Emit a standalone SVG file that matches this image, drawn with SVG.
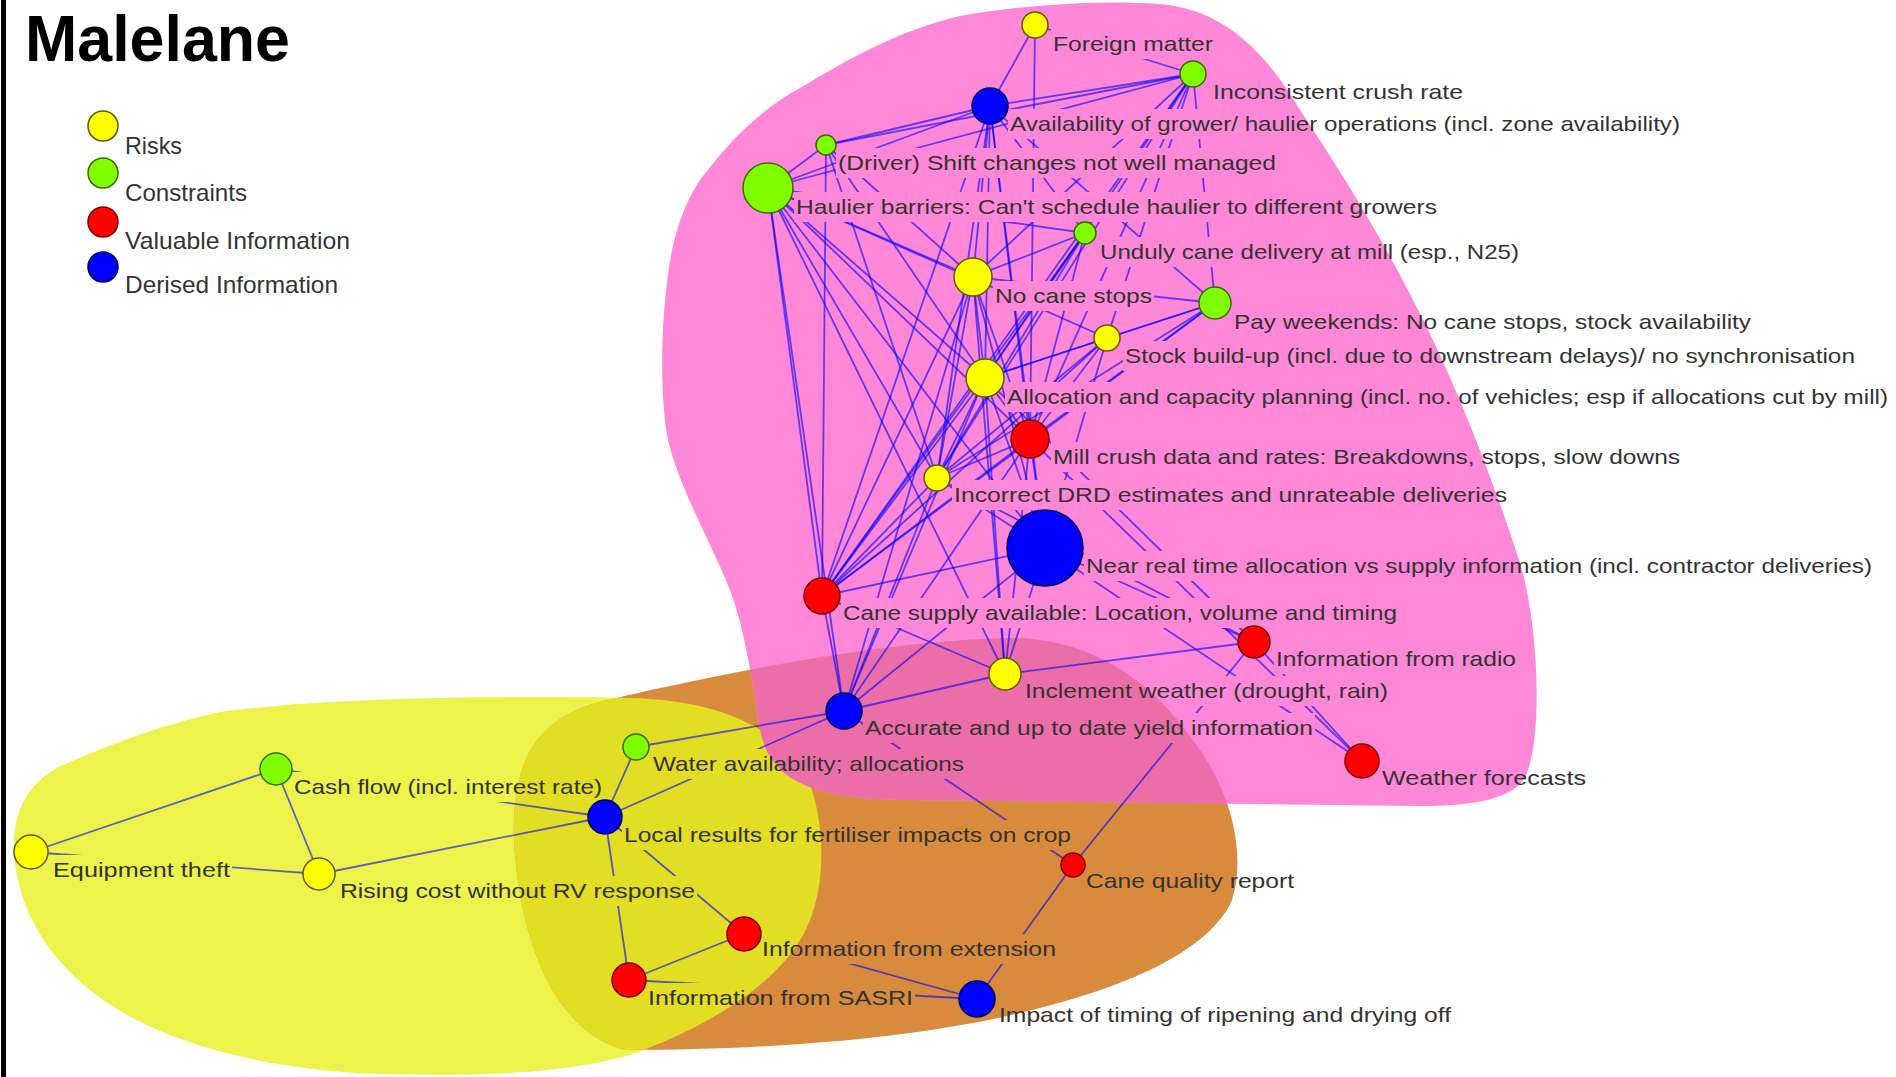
<svg xmlns="http://www.w3.org/2000/svg" width="1896" height="1077" viewBox="0 0 1896 1077">
  <style>
    .lbl { font-family: "Liberation Sans", Arial, sans-serif; font-size: 21px; fill: #333333; }
    .leg { font-family: "Liberation Sans", Arial, sans-serif; font-size: 24px; fill: #333333; }
    .title { font-family: "Liberation Sans", Arial, sans-serif; font-size: 64px; font-weight: bold; fill: #000000; }
    #connectors line { stroke: #0000ff; stroke-opacity: 0.6; stroke-width: 1.8; }
    .risk { fill: #ffff00; stroke: #5a5a00; stroke-width: 1.5; }
    .constraint { fill: #7fff00; stroke: #3a6a00; stroke-width: 1.5; }
    .valuable { fill: #ff0000; stroke: #7a0000; stroke-width: 1.5; }
    .derived { fill: #0000ff; stroke: #00005a; stroke-width: 1.5; }
  </style>
  <defs>
    <path id="blobPink" d="M 700,180 C 730,140 760,110 800,88 C 850,58 900,30 960,16 C 1030,4 1100,0 1160,4 C 1230,10 1270,60 1300,110 C 1340,170 1380,235 1413,300 C 1450,370 1490,470 1520,563 C 1540,630 1542,740 1526,775 C 1515,800 1470,806 1420,806 L 900,800 C 810,798 770,780 760,730 C 752,680 745,630 730,590 C 710,540 680,490 668,440 C 658,390 662,300 672,250 C 680,215 690,195 700,180 Z"/>
    <path id="blobYellow" d="M 14,850 C 12,805 35,775 70,762 C 110,745 160,725 220,712 C 320,698 500,695 630,698 C 720,700 790,730 812,790 C 830,850 820,910 800,940 C 770,990 700,1030 630,1055 C 560,1075 470,1076 380,1074 C 260,1070 150,1040 90,990 C 40,950 16,900 14,850 Z"/>
    <path id="blobOrange" d="M 514,840 C 512,770 530,720 600,702 C 700,678 880,640 1010,638 C 1100,638 1160,690 1200,750 C 1235,800 1245,860 1232,900 C 1210,950 1130,985 1040,1008 C 920,1040 760,1050 626,1050 C 560,1035 520,950 514,840 Z"/>
    <clipPath id="clipOrange"><use href="#blobOrange"/></clipPath>
    <!-- label boxes hide the connector segments running underneath the texts -->
    <mask id="labelMask" maskUnits="userSpaceOnUse" x="0" y="0" width="1896" height="1077">
      <rect x="0" y="0" width="1896" height="1077" fill="#ffffff"/>
      <g fill="#000000">
        <rect x="1051" y="29" width="164" height="30"/>
        <rect x="1211" y="77" width="254" height="30"/>
        <rect x="1008" y="109" width="674" height="30"/>
        <rect x="836" y="148" width="442" height="30"/>
        <rect x="794" y="192" width="645" height="30"/>
        <rect x="1098" y="237" width="423" height="30"/>
        <rect x="993" y="281" width="161" height="30"/>
        <rect x="1232" y="307" width="521" height="30"/>
        <rect x="1123" y="341" width="734" height="30"/>
        <rect x="1005" y="382" width="885" height="30"/>
        <rect x="1051" y="442" width="631" height="30"/>
        <rect x="952" y="480" width="557" height="30"/>
        <rect x="1084" y="551" width="790" height="30"/>
        <rect x="841" y="598" width="558" height="30"/>
        <rect x="1274" y="644" width="244" height="30"/>
        <rect x="1023" y="676" width="367" height="30"/>
        <rect x="863" y="713" width="452" height="30"/>
        <rect x="1380" y="763" width="208" height="30"/>
        <rect x="651" y="749" width="315" height="30"/>
        <rect x="292" y="772" width="312" height="30"/>
        <rect x="622" y="820" width="451" height="30"/>
        <rect x="51" y="855" width="181" height="30"/>
        <rect x="338" y="876" width="359" height="30"/>
        <rect x="1084" y="866" width="212" height="30"/>
        <rect x="760" y="934" width="298" height="30"/>
        <rect x="646" y="983" width="269" height="30"/>
        <rect x="997" y="1000" width="456" height="30"/>
      </g>
    </mask>
  </defs>

  <rect x="0" y="0" width="1896" height="1077" fill="#ffffff"/>

  <!-- highlighted groupings -->
  <g id="regions">
    <use href="#blobYellow" fill="#ecf44b"/>
    <use href="#blobOrange" fill="#d88a3d"/>
    <use href="#blobPink" fill="#ff87d7"/>
    <use href="#blobYellow" fill="#e2de24" clip-path="url(#clipOrange)"/>
    <use href="#blobPink" fill="#ec6ea8" clip-path="url(#clipOrange)"/>
  </g>

  <rect x="1" y="0" width="5" height="1077" fill="#000000"/>

  <text class="title" x="25" y="61" textLength="265" lengthAdjust="spacingAndGlyphs">Malelane</text>

  <g id="legend">
    <circle class="risk" cx="103" cy="126" r="15"/>
    <text class="leg" x="125" y="154" textLength="57" lengthAdjust="spacingAndGlyphs">Risks</text>
    <circle class="constraint" cx="103" cy="173" r="15"/>
    <text class="leg" x="125" y="201" textLength="122" lengthAdjust="spacingAndGlyphs">Constraints</text>
    <circle class="valuable" cx="103" cy="222" r="15"/>
    <text class="leg" x="125" y="249" textLength="225" lengthAdjust="spacingAndGlyphs">Valuable Information</text>
    <circle class="derived" cx="103" cy="267" r="15"/>
    <text class="leg" x="125" y="293" textLength="213" lengthAdjust="spacingAndGlyphs">Derised Information</text>
  </g>

  <g id="connectors" mask="url(#labelMask)">
    <line x1="1035" y1="25" x2="990" y2="106"/>
    <line x1="1035" y1="25" x2="1193" y2="74"/>
    <line x1="1035" y1="25" x2="1030" y2="439"/>
    <line x1="1193" y1="74" x2="990" y2="106"/>
    <line x1="1193" y1="74" x2="826" y2="145"/>
    <line x1="1193" y1="74" x2="768" y2="188"/>
    <line x1="1193" y1="74" x2="973" y2="277"/>
    <line x1="1193" y1="74" x2="985" y2="378"/>
    <line x1="1193" y1="74" x2="1030" y2="439"/>
    <line x1="1193" y1="74" x2="1107" y2="338"/>
    <line x1="1193" y1="74" x2="822" y2="596"/>
    <line x1="1193" y1="74" x2="937" y2="478"/>
    <line x1="1193" y1="74" x2="1215" y2="303"/>
    <line x1="990" y1="106" x2="826" y2="145"/>
    <line x1="990" y1="106" x2="768" y2="188"/>
    <line x1="990" y1="106" x2="973" y2="277"/>
    <line x1="990" y1="106" x2="985" y2="378"/>
    <line x1="990" y1="106" x2="822" y2="596"/>
    <line x1="990" y1="106" x2="937" y2="478"/>
    <line x1="990" y1="106" x2="1030" y2="439"/>
    <line x1="990" y1="106" x2="1045" y2="548"/>
    <line x1="990" y1="106" x2="1085" y2="233"/>
    <line x1="990" y1="106" x2="1215" y2="303"/>
    <line x1="826" y1="145" x2="768" y2="188"/>
    <line x1="826" y1="145" x2="822" y2="596"/>
    <line x1="826" y1="145" x2="973" y2="277"/>
    <line x1="826" y1="145" x2="985" y2="378"/>
    <line x1="826" y1="145" x2="937" y2="478"/>
    <line x1="768" y1="188" x2="822" y2="596"/>
    <line x1="768" y1="188" x2="973" y2="277"/>
    <line x1="768" y1="188" x2="985" y2="378"/>
    <line x1="768" y1="188" x2="1030" y2="439"/>
    <line x1="768" y1="188" x2="1045" y2="548"/>
    <line x1="768" y1="188" x2="1005" y2="674"/>
    <line x1="768" y1="188" x2="937" y2="478"/>
    <line x1="768" y1="188" x2="844" y2="711"/>
    <line x1="768" y1="188" x2="1107" y2="338"/>
    <line x1="768" y1="188" x2="1085" y2="233"/>
    <line x1="1085" y1="233" x2="973" y2="277"/>
    <line x1="1085" y1="233" x2="985" y2="378"/>
    <line x1="1085" y1="233" x2="937" y2="478"/>
    <line x1="1085" y1="233" x2="822" y2="596"/>
    <line x1="1085" y1="233" x2="1030" y2="439"/>
    <line x1="1215" y1="303" x2="973" y2="277"/>
    <line x1="1215" y1="303" x2="1107" y2="338"/>
    <line x1="1215" y1="303" x2="985" y2="378"/>
    <line x1="1215" y1="303" x2="1030" y2="439"/>
    <line x1="1215" y1="303" x2="937" y2="478"/>
    <line x1="1215" y1="303" x2="822" y2="596"/>
    <line x1="1107" y1="338" x2="985" y2="378"/>
    <line x1="1107" y1="338" x2="1030" y2="439"/>
    <line x1="1107" y1="338" x2="937" y2="478"/>
    <line x1="1107" y1="338" x2="822" y2="596"/>
    <line x1="1107" y1="338" x2="1045" y2="548"/>
    <line x1="973" y1="277" x2="985" y2="378"/>
    <line x1="973" y1="277" x2="1030" y2="439"/>
    <line x1="973" y1="277" x2="937" y2="478"/>
    <line x1="973" y1="277" x2="822" y2="596"/>
    <line x1="973" y1="277" x2="1045" y2="548"/>
    <line x1="973" y1="277" x2="1005" y2="674"/>
    <line x1="973" y1="277" x2="844" y2="711"/>
    <line x1="985" y1="378" x2="1030" y2="439"/>
    <line x1="985" y1="378" x2="937" y2="478"/>
    <line x1="985" y1="378" x2="822" y2="596"/>
    <line x1="985" y1="378" x2="1045" y2="548"/>
    <line x1="985" y1="378" x2="844" y2="711"/>
    <line x1="985" y1="378" x2="1005" y2="674"/>
    <line x1="985" y1="378" x2="1254" y2="642"/>
    <line x1="1030" y1="439" x2="937" y2="478"/>
    <line x1="1030" y1="439" x2="822" y2="596"/>
    <line x1="1030" y1="439" x2="1045" y2="548"/>
    <line x1="1030" y1="439" x2="844" y2="711"/>
    <line x1="1030" y1="439" x2="1005" y2="674"/>
    <line x1="1030" y1="439" x2="1362" y2="761"/>
    <line x1="937" y1="478" x2="822" y2="596"/>
    <line x1="937" y1="478" x2="1045" y2="548"/>
    <line x1="937" y1="478" x2="844" y2="711"/>
    <line x1="937" y1="478" x2="1254" y2="642"/>
    <line x1="1045" y1="548" x2="822" y2="596"/>
    <line x1="1045" y1="548" x2="844" y2="711"/>
    <line x1="1045" y1="548" x2="1254" y2="642"/>
    <line x1="1045" y1="548" x2="1005" y2="674"/>
    <line x1="1045" y1="548" x2="1362" y2="761"/>
    <line x1="822" y1="596" x2="844" y2="711"/>
    <line x1="822" y1="596" x2="1005" y2="674"/>
    <line x1="844" y1="711" x2="1005" y2="674"/>
    <line x1="844" y1="711" x2="636" y2="747"/>
    <line x1="844" y1="711" x2="605" y2="817"/>
    <line x1="844" y1="711" x2="1073" y2="865"/>
    <line x1="1005" y1="674" x2="1254" y2="642"/>
    <line x1="1254" y1="642" x2="1362" y2="761"/>
    <line x1="1254" y1="642" x2="1073" y2="865"/>
    <line x1="31" y1="852" x2="276" y2="769"/>
    <line x1="31" y1="852" x2="319" y2="874"/>
    <line x1="276" y1="769" x2="319" y2="874"/>
    <line x1="319" y1="874" x2="605" y2="817"/>
    <line x1="605" y1="817" x2="636" y2="747"/>
    <line x1="605" y1="817" x2="276" y2="769"/>
    <line x1="605" y1="817" x2="744" y2="934"/>
    <line x1="605" y1="817" x2="629" y2="980"/>
    <line x1="629" y1="980" x2="744" y2="934"/>
    <line x1="629" y1="980" x2="977" y2="999"/>
    <line x1="744" y1="934" x2="977" y2="999"/>
    <line x1="977" y1="999" x2="1073" y2="865"/>
  </g>

  <g id="node-foreign-matter"><circle class="risk" cx="1035" cy="25" r="13"/><text class="lbl" x="1053" y="51" textLength="160" lengthAdjust="spacingAndGlyphs">Foreign matter</text></g>
  <g id="node-inconsistent-crush"><circle class="constraint" cx="1193" cy="74" r="13"/><text class="lbl" x="1213" y="99" textLength="250" lengthAdjust="spacingAndGlyphs">Inconsistent crush rate</text></g>
  <g id="node-availability"><circle class="derived" cx="990" cy="106" r="18"/><text class="lbl" x="1010" y="131" textLength="670" lengthAdjust="spacingAndGlyphs">Availability of grower/ haulier operations (incl. zone availability)</text></g>
  <g id="node-shift-changes"><circle class="constraint" cx="826" cy="145" r="10"/><text class="lbl" x="838" y="170" textLength="438" lengthAdjust="spacingAndGlyphs">(Driver) Shift changes not well managed</text></g>
  <g id="node-haulier-barriers"><circle class="constraint" cx="768" cy="188" r="25"/><text class="lbl" x="796" y="214" textLength="641" lengthAdjust="spacingAndGlyphs">Haulier barriers: Can't schedule haulier to different growers</text></g>
  <g id="node-unduly-delivery"><circle class="constraint" cx="1085" cy="233" r="11"/><text class="lbl" x="1100" y="259" textLength="419" lengthAdjust="spacingAndGlyphs">Unduly cane delivery at mill (esp., N25)</text></g>
  <g id="node-no-cane-stops"><circle class="risk" cx="973" cy="277" r="19"/><text class="lbl" x="995" y="303" textLength="157" lengthAdjust="spacingAndGlyphs">No cane stops</text></g>
  <g id="node-pay-weekends"><circle class="constraint" cx="1215" cy="303" r="16"/><text class="lbl" x="1234" y="329" textLength="517" lengthAdjust="spacingAndGlyphs">Pay weekends: No cane stops, stock availability</text></g>
  <g id="node-stock-buildup"><circle class="risk" cx="1107" cy="338" r="13"/><text class="lbl" x="1125" y="363" textLength="730" lengthAdjust="spacingAndGlyphs">Stock build-up (incl. due to downstream delays)/ no synchronisation</text></g>
  <g id="node-allocation-planning"><circle class="risk" cx="985" cy="378" r="19"/><text class="lbl" x="1007" y="404" textLength="881" lengthAdjust="spacingAndGlyphs">Allocation and capacity planning (incl. no. of vehicles; esp if allocations cut by mill)</text></g>
  <g id="node-mill-crush"><circle class="valuable" cx="1030" cy="439" r="19"/><text class="lbl" x="1053" y="464" textLength="627" lengthAdjust="spacingAndGlyphs">Mill crush data and rates: Breakdowns, stops, slow downs</text></g>
  <g id="node-drd-estimates"><circle class="risk" cx="937" cy="478" r="13"/><text class="lbl" x="954" y="502" textLength="553" lengthAdjust="spacingAndGlyphs">Incorrect DRD estimates and unrateable deliveries</text></g>
  <g id="node-near-real-time"><circle class="derived" cx="1045" cy="548" r="38"/><text class="lbl" x="1086" y="573" textLength="786" lengthAdjust="spacingAndGlyphs">Near real time allocation vs supply information (incl. contractor deliveries)</text></g>
  <g id="node-cane-supply"><circle class="valuable" cx="822" cy="596" r="18"/><text class="lbl" x="843" y="620" textLength="554" lengthAdjust="spacingAndGlyphs">Cane supply available: Location, volume and timing</text></g>
  <g id="node-radio"><circle class="valuable" cx="1254" cy="642" r="16"/><text class="lbl" x="1276" y="666" textLength="240" lengthAdjust="spacingAndGlyphs">Information from radio</text></g>
  <g id="node-inclement-weather"><circle class="risk" cx="1005" cy="674" r="16"/><text class="lbl" x="1025" y="698" textLength="363" lengthAdjust="spacingAndGlyphs">Inclement weather (drought, rain)</text></g>
  <g id="node-yield-info"><circle class="derived" cx="844" cy="711" r="18"/><text class="lbl" x="865" y="735" textLength="448" lengthAdjust="spacingAndGlyphs">Accurate and up to date yield information</text></g>
  <g id="node-weather-forecasts"><circle class="valuable" cx="1362" cy="761" r="17"/><text class="lbl" x="1382" y="785" textLength="204" lengthAdjust="spacingAndGlyphs">Weather forecasts</text></g>
  <g id="node-water"><circle class="constraint" cx="636" cy="747" r="13"/><text class="lbl" x="653" y="771" textLength="311" lengthAdjust="spacingAndGlyphs">Water availability; allocations</text></g>
  <g id="node-cash-flow"><circle class="constraint" cx="276" cy="769" r="16"/><text class="lbl" x="294" y="794" textLength="308" lengthAdjust="spacingAndGlyphs">Cash flow (incl. interest rate)</text></g>
  <g id="node-fertiliser"><circle class="derived" cx="605" cy="817" r="17"/><text class="lbl" x="624" y="842" textLength="447" lengthAdjust="spacingAndGlyphs">Local results for fertiliser impacts on crop</text></g>
  <g id="node-equipment-theft"><circle class="risk" cx="31" cy="852" r="17"/><text class="lbl" x="53" y="877" textLength="177" lengthAdjust="spacingAndGlyphs">Equipment theft</text></g>
  <g id="node-rising-cost"><circle class="risk" cx="319" cy="874" r="16"/><text class="lbl" x="340" y="898" textLength="355" lengthAdjust="spacingAndGlyphs">Rising cost without RV response</text></g>
  <g id="node-cane-quality"><circle class="valuable" cx="1073" cy="865" r="12"/><text class="lbl" x="1086" y="888" textLength="208" lengthAdjust="spacingAndGlyphs">Cane quality report</text></g>
  <g id="node-extension"><circle class="valuable" cx="744" cy="934" r="17"/><text class="lbl" x="762" y="956" textLength="294" lengthAdjust="spacingAndGlyphs">Information from extension</text></g>
  <g id="node-sasri"><circle class="valuable" cx="629" cy="980" r="17"/><text class="lbl" x="648" y="1005" textLength="265" lengthAdjust="spacingAndGlyphs">Information from SASRI</text></g>
  <g id="node-ripening"><circle class="derived" cx="977" cy="999" r="18"/><text class="lbl" x="999" y="1022" textLength="452" lengthAdjust="spacingAndGlyphs">Impact of timing of ripening and drying off</text></g>
</svg>
